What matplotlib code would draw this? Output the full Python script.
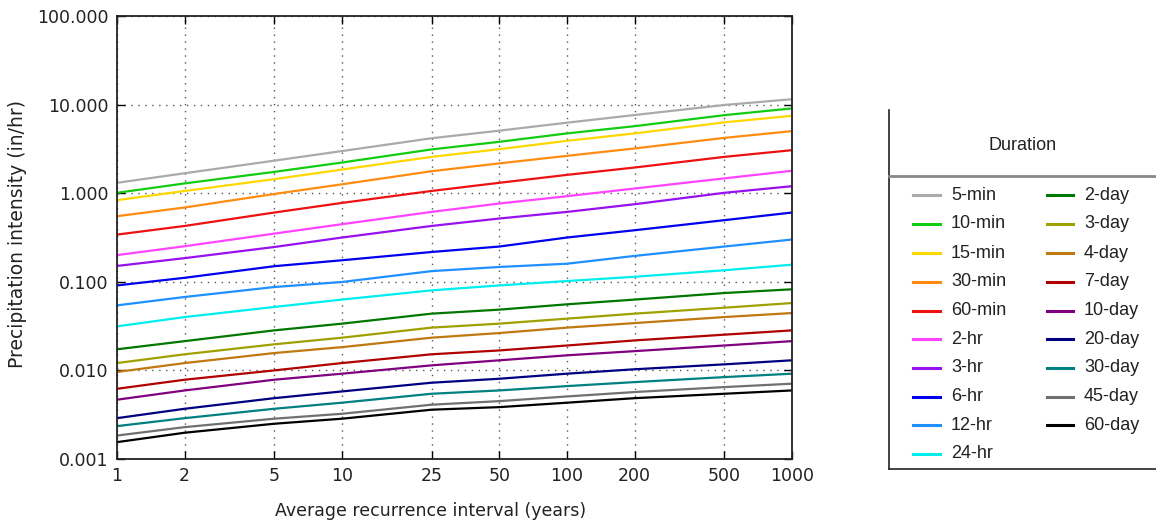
import matplotlib
matplotlib.use("Agg")
import matplotlib.pyplot as plt
from matplotlib.lines import Line2D

intervals = [1, 2, 5, 10, 25, 50, 100, 200, 500, 1000]
tick_labels_x = ["1", "2", "5", "10", "25", "50", "100", "200", "500", "1000"]
tick_values_y = [0.001, 0.01, 0.1, 1, 10, 100]
tick_labels_y = ["0.001", "0.010", "0.100", "1.000", "10.000", "100.000"]

durations = ["5-min", "10-min", "15-min", "30-min", "60-min", "2-hr", "3-hr", "6-hr",
             "12-hr", "24-hr", "2-day", "3-day", "4-day", "7-day", "10-day", "20-day",
             "30-day", "45-day", "60-day"]

min5 = [1.31, 1.68, 2.33, 2.99, 4.17, 5.08, 6.25, 7.63, 9.9, 11.5]
min10 = [1.01, 1.29, 1.74, 2.22, 3.12, 3.8, 4.73, 5.71, 7.6, 9.06]
min15 = [0.834, 1.06, 1.44, 1.85, 2.57, 3.14, 3.9, 4.73, 6.3, 7.48]
min30 = [0.55, 0.69, 0.98, 1.26, 1.77, 2.17, 2.64, 3.2, 4.21, 5.02]
min60 = [0.341, 0.427, 0.605, 0.777, 1.06, 1.31, 1.61, 1.95, 2.57, 3.06]
hr2 = [0.2, 0.252, 0.35, 0.447, 0.615, 0.765, 0.925, 1.13, 1.47, 1.79]
hr3 = [0.151, 0.185, 0.247, 0.316, 0.427, 0.518, 0.615, 0.751, 1.01, 1.2]
hr6 = [0.091, 0.111, 0.15, 0.175, 0.217, 0.25, 0.316, 0.382, 0.496, 0.605]
hr12 = [0.0542, 0.0674, 0.0873, 0.0995, 0.132, 0.147, 0.16, 0.196, 0.25, 0.3]
hr24 = [0.0314, 0.04, 0.052, 0.063, 0.08, 0.091, 0.102, 0.114, 0.135, 0.156]
day2 = [0.0173, 0.0214, 0.0283, 0.0337, 0.0437, 0.0485, 0.0557, 0.063, 0.0747, 0.0823]
day3 = [0.0121, 0.0152, 0.0197, 0.0234, 0.0304, 0.0337, 0.0384, 0.0437, 0.051, 0.0576]
day4 = [0.0096, 0.0121, 0.0157, 0.0183, 0.0234, 0.0264, 0.0304, 0.0342, 0.04, 0.0444]
day7 = [0.0062, 0.00785, 0.01, 0.0121, 0.0152, 0.0168, 0.0191, 0.0218, 0.0253, 0.0283]
day10 = [0.00467, 0.00594, 0.00785, 0.00918, 0.0114, 0.013, 0.0148, 0.0165, 0.0191, 0.0214]
day20 = [0.00289, 0.00369, 0.00486, 0.00579, 0.00726, 0.00805, 0.00918, 0.0103, 0.0117, 0.013]
day30 = [0.00235, 0.00289, 0.00369, 0.00432, 0.00545, 0.00594, 0.00665, 0.00738, 0.0084, 0.00918]
day45 = [0.00184, 0.00229, 0.00285, 0.00324, 0.0041, 0.0045, 0.00508, 0.0057, 0.00648, 0.00708]
day60 = [0.00155, 0.00198, 0.0025, 0.00285, 0.0036, 0.00385, 0.00432, 0.00486, 0.00545, 0.00594]

series = [min5, min10, min15, min30, min60, hr2, hr3, hr6, hr12, hr24,
          day2, day3, day4, day7, day10, day20, day30, day45, day60]

colors = ["#aaaaaa", "#11cc11", "#ffd700", "#ff8c11", "#ee1111", "#ff44ff", "#9911ee",
          "#0000ee", "#1e90ff", "#00eeee", "#007700", "#a0a000", "#c07810", "#b00000",
          "#800080", "#000080", "#008080", "#707070", "#000000"]

fig = plt.figure(figsize=(11.56, 5.31), dpi=100)
ax = fig.add_axes([117/1156, 1 - 459/531, (792-117)/1156, (459-16)/531])

for vals, c, lab in zip(series, colors, durations):
    ax.plot(intervals, vals, color=c, lw=1.6, label=lab)

ax.set_xscale("log")
ax.set_yscale("log")
ax.set_xlim(1, 1000)
ax.set_ylim(0.001, 100)
ax.set_xticks(intervals)
ax.set_xticklabels(tick_labels_x)
ax.set_yticks(tick_values_y)
ax.set_yticklabels(tick_labels_y)
ax.minorticks_off()
ax.tick_params(which="major", direction="in", length=6, width=1, top=True, right=True,
               labelsize=12.5, colors="black", pad=6)
ax.tick_params(axis="y", labelcolor="#222222")
ax.tick_params(axis="x", labelcolor="#222222")
ax.grid(True, which="major", color="#555555", linestyle=(0, (1, 4)), linewidth=1)
for s in ax.spines.values():
    s.set_linewidth(1.3)
    s.set_color("#222222")
ax.set_xlabel("Average recurrence interval (years)", fontsize=12.5, color="#222222")
ax.set_ylabel("Precipitation intensity (in/hr)", fontsize=13.5, color="#222222")
ax.xaxis.set_label_coords((431 - 117) / 675, -(511 - 459) / 443)
ax.yaxis.set_label_coords(-(117 - 18) / 675, (459 - 234) / 443)
ax.xaxis.label.set_va("center")
ax.yaxis.label.set_va("center")

# Legend panel drawn in figure coordinates
def fx(px):
    return px / 1156

def fy(py):
    return 1 - py / 531

fig.add_artist(Line2D([fx(889), fx(889)], [fy(110), fy(469)], color="#222222", lw=1.2))
fig.add_artist(Line2D([fx(889), fx(1156)], [fy(469), fy(469)], color="#222222", lw=1.2))
fig.add_artist(Line2D([fx(889), fx(1156)], [fy(176), fy(176)], color="#888888", lw=2))
fig.text(fx(1023), fy(146), "Duration", ha="center", va="center", fontsize=13,
         family="Liberation Sans", color="#222222")

row_y = [195, 224, 253, 282, 310.5, 339, 368, 396.5, 425, 454]
for i, (lab, c) in enumerate(zip(durations, colors)):
    if i < 10:
        x0, x1, xt, yy = 913, 940, 951, row_y[i]
    else:
        x0, x1, xt, yy = 1047, 1073, 1084, row_y[i - 10]
    fig.add_artist(Line2D([fx(x0), fx(x1)], [fy(yy), fy(yy)], color=c, lw=2.2))
    fig.text(fx(xt), fy(yy), lab, ha="left", va="center", fontsize=13,
             family="Liberation Sans", color="#222222")

fig.savefig("out.png", dpi=100)
